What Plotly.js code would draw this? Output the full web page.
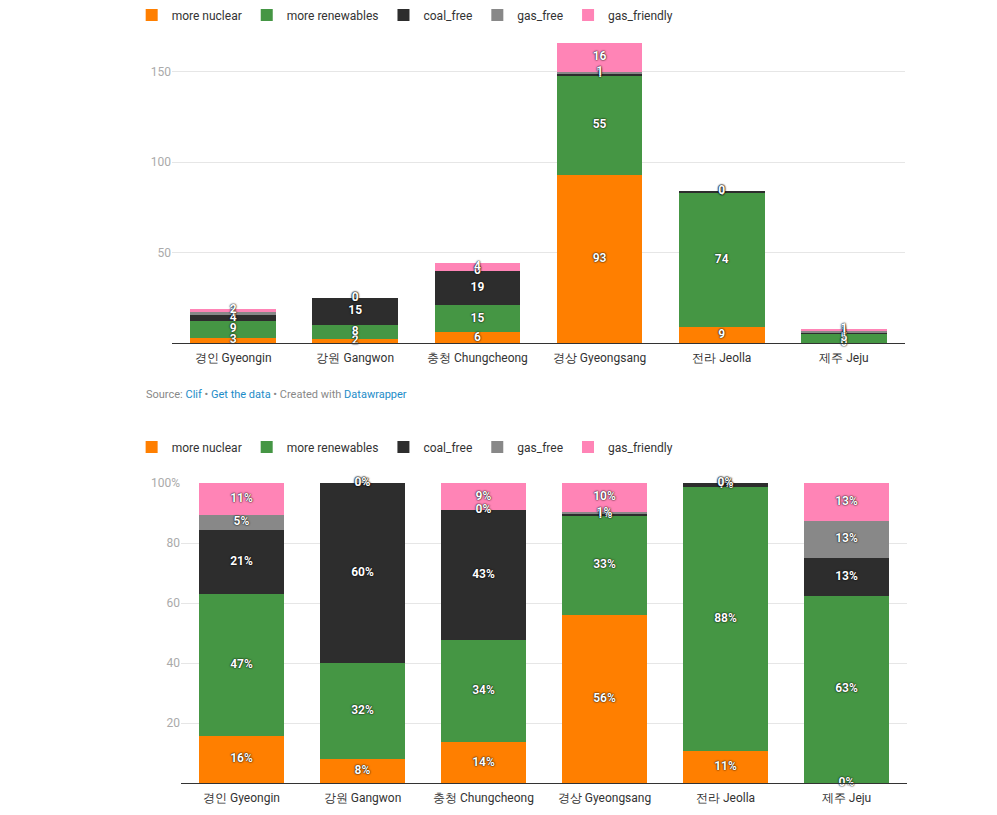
<!DOCTYPE html>
<html>
<head>
<meta charset="utf-8">
<script src="https://cdn.plot.ly/plotly-3.0.1.min.js"></script>
<style>
  body { margin: 0; background: #fff; font-family: Roboto, sans-serif; }
  #abs { position: absolute; left: 0; top: 0; width: 997px; height: 380px; }
  #pct { position: absolute; left: 0; top: 420px; width: 997px; height: 395px; }
  #notes { position: absolute; left: 146px; top: 388px; font-size: 11px; color: #888; }
  #notes a { color: #1d8cc8; text-decoration: none; }
</style>
</head>
<body>
<div id="abs"></div>
<div id="notes">Source: <a>Clif</a> • <a>Get the data</a> • Created with <a>Datawrapper</a></div>
<div id="pct"></div>
<script>
const regions = ["경인 Gyeongin", "강원 Gangwon", "충청 Chungcheong", "경상 Gyeongsang", "전라 Jeolla", "제주 Jeju"]

// votes per region
const moreNuclear    = [3, 2, 6, 93, 9, 0]
const moreRenewables = [9, 8, 15, 55, 74, 5]
const coalFree       = [4, 15, 19, 1, 1, 1]
const gasFree        = [1, 0, 0, 1, 0, 1]
const gasFriendly    = [2, 0, 4, 16, 0, 1]

const seriesNames  = ["more nuclear", "more renewables", "coal_free", "gas_free", "gas_friendly"]
const seriesColors = ["#ff7f00", "#459644", "#2d2d2d", "#888888", "#ff84b6"]
const series = [moreNuclear, moreRenewables, coalFree, gasFree, gasFriendly]

const FONT = "Roboto, sans-serif"
const labelFont = {
    family: FONT, size: 12, color: "#fff", weight: "bold",
    shadow: "0 0 2px rgba(0,0,0,0.9), 0 0 1px rgba(0,0,0,0.9)"
}

function barTraces() {
    return series.map((vals, i) => ({
        type: "bar",
        x: regions,
        y: vals,
        name: seriesNames[i],
        marker: { color: seriesColors[i], line: { width: 0 } },
        hoverinfo: "skip"
    }))
}

// labels sit in the middle of each stacked segment (zero segments too)
function labelTraces(asPercent) {
    const totals = regions.map((_, j) => series.reduce((s, v) => s + v[j], 0))
    const base = regions.map(() => 0)
    return series.map(vals => {
        const ys = [], texts = []
        vals.forEach((v, j) => {
            const h = asPercent ? v / totals[j] * 100 : v
            ys.push(base[j] + h / 2)
            texts.push(asPercent ? Math.round(h) + "%" : String(v))
            base[j] += h
        })
        return {
            type: "scatter", mode: "text",
            x: regions, y: ys, text: texts,
            textposition: "middle center",
            textfont: labelFont,
            cliponaxis: false, showlegend: false, hoverinfo: "skip"
        }
    })
}

function baseLayout(legendX, legendY) {
    return {
        barmode: "stack",
        bargap: 0.3,
        showlegend: true,
        paper_bgcolor: "#fff",
        plot_bgcolor: "#fff",
        font: { family: FONT, size: 12, color: "#333" },
        legend: {
            orientation: "h", traceorder: "normal",
            x: legendX, y: legendY, xanchor: "left", yanchor: "middle",
            font: { family: FONT, size: 12, color: "#333" },
            itemclick: false, itemdoubleclick: false
        },
        xaxis: {
            type: "category", fixedrange: true,
            showline: true, linecolor: "#333", linewidth: 1,
            ticks: "", showgrid: false, ticklabelstandoff: 4,
            tickfont: { family: FONT, size: 12, color: "#333" }
        },
        hovermode: false
    }
}

const layoutAbs = baseLayout(-0.055, 1.079)
layoutAbs.margin = { l: 172, r: 92, t: 39, b: 37, autoexpand: false }
layoutAbs.yaxis = {
    range: [0, 168], fixedrange: true,
    tickvals: [50, 100, 150], ticks: "",
    showgrid: true, gridcolor: "#e6e6e6", zeroline: false,
    tickfont: { family: FONT, size: 12, color: "#aaa" }
}

const layoutPct = baseLayout(-0.068, 1.12)
layoutPct.barnorm = "percent"
layoutPct.margin = { l: 181, r: 90, t: 63, b: 32, autoexpand: false }
layoutPct.yaxis = {
    range: [0, 100], fixedrange: true,
    tickvals: [20, 40, 60, 80, 100],
    ticktext: ["20", "40", "60", "80", "100%"], ticks: "",
    showgrid: true, gridcolor: "#e6e6e6", zeroline: false,
    tickfont: { family: FONT, size: 12, color: "#aaa" }
}

const config = { displayModeBar: false }

Plotly.newPlot("abs", [...barTraces(), ...labelTraces(false)], layoutAbs, config)
Plotly.newPlot("pct", [...barTraces(), ...labelTraces(true)], layoutPct, config)
</script>
</body>
</html>
